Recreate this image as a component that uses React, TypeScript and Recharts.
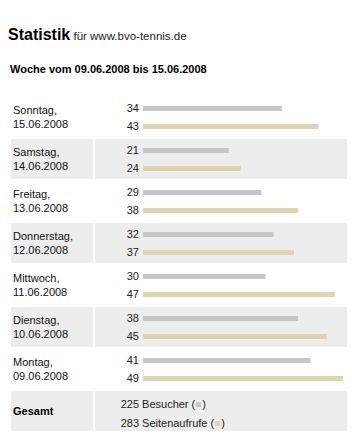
import React from 'react';
import { BarChart, Bar, XAxis, YAxis, LabelList } from 'recharts';

const days = ['Sonntag', 'Samstag', 'Freitag', 'Donnerstag', 'Mittwoch', 'Dienstag', 'Montag'];
const dates = ['15.06.2008', '14.06.2008', '13.06.2008', '12.06.2008', '11.06.2008', '10.06.2008', '09.06.2008'];
const besucher = [34, 21, 29, 32, 30, 38, 41];
const seitenaufrufe = [43, 24, 38, 37, 47, 45, 49];

const GRAY = '#c6c6c6';
const TAN = '#ddd5ae';
const ROW_BG = '#ededed';
const FONT = '"Liberation Sans", Arial, sans-serif';

const data = days.map((d, i) => ({
  day: d,
  date: dates[i],
  besucher: besucher[i],
  seiten: seitenaufrufe[i],
}));

const totalBesucher = besucher.reduce((a, b) => a + b, 0);
const totalSeiten = seitenaufrufe.reduce((a, b) => a + b, 0);

const ROW_TOP = 97;
const ROW_PITCH = 42;
const ROW_H = 40;

function DayTick(props: any) {
  const { y, payload, index } = props;
  return (
    <text x={13} y={y} fontSize={11} fill="#111" fontFamily={FONT}>
      <tspan x={13} y={y - 3}>{payload.value},</tspan>
      <tspan x={13} y={y + 11}>{dates[index]}</tspan>
    </text>
  );
}

function RowBg({ i }: { i: number }) {
  const top = ROW_TOP + i * ROW_PITCH;
  return (
    <>
      <div style={{ position: 'absolute', left: 11, top, width: 82, height: ROW_H, background: ROW_BG }} />
      <div style={{ position: 'absolute', left: 95, top, width: 252, height: ROW_H, background: ROW_BG }} />
    </>
  );
}

const swatch = (c: string) => (
  <span style={{ display: 'inline-block', width: 5, height: 5, background: c, margin: '0 1px 1px 1px' }} />
);

export default function App() {
  return (
    <div
      style={{
        position: 'absolute',
        left: 0,
        top: 0,
        width: 352,
        height: 442,
        background: '#fff',
        fontFamily: FONT,
        color: '#111',
        overflow: 'hidden',
      }}
    >
      {[1, 3, 5, 7].map((i) => (
        <RowBg key={i} i={i} />
      ))}

      <div style={{ position: 'absolute', left: 8, top: 27, lineHeight: '16px', whiteSpace: 'nowrap' }}>
        <span style={{ fontSize: 16, fontWeight: 'bold', color: '#000' }}>Statistik</span>
        <span style={{ fontSize: 11.5, color: '#222' }}> für www.bvo-tennis.de</span>
      </div>

      <div style={{ position: 'absolute', left: 10, top: 64, fontSize: 11, lineHeight: '11px', fontWeight: 'bold', color: '#000' }}>
        Woche vom 09.06.2008 bis 15.06.2008
      </div>

      <div style={{ position: 'absolute', left: 0, top: 0 }}>
        <BarChart
          width={352}
          height={442}
          data={data}
          layout="vertical"
          barGap={13}
          margin={{ top: 96, right: 9, bottom: 52, left: 0 }}
        >
          <XAxis type="number" domain={[0, 49]} hide />
          <YAxis
            type="category"
            dataKey="day"
            width={143}
            axisLine={false}
            tickLine={false}
            interval={0}
            tick={<DayTick />}
          />
          <Bar dataKey="besucher" fill={GRAY} barSize={5} isAnimationActive={false}>
            <LabelList dataKey="besucher" position="left" offset={4} fontSize={11} fill="#222" fontFamily={FONT} />
          </Bar>
          <Bar dataKey="seiten" fill={TAN} barSize={5} isAnimationActive={false}>
            <LabelList dataKey="seiten" position="left" offset={4} fontSize={11} fill="#222" fontFamily={FONT} />
          </Bar>
        </BarChart>
      </div>

      <div style={{ position: 'absolute', left: 13, top: 405, fontSize: 11, lineHeight: '12px', fontWeight: 'bold', color: '#000' }}>
        Gesamt
      </div>
      <div style={{ position: 'absolute', left: 95, top: 395, fontSize: 11, lineHeight: '19px', color: '#222', whiteSpace: 'nowrap' }}>
        <div>
          <span style={{ display: 'inline-block', width: 44, textAlign: 'right' }}>{totalBesucher}</span> Besucher ({swatch(GRAY)})
        </div>
        <div>
          <span style={{ display: 'inline-block', width: 44, textAlign: 'right' }}>{totalSeiten}</span> Seitenaufrufe ({swatch(TAN)})
        </div>
      </div>
    </div>
  );
}
